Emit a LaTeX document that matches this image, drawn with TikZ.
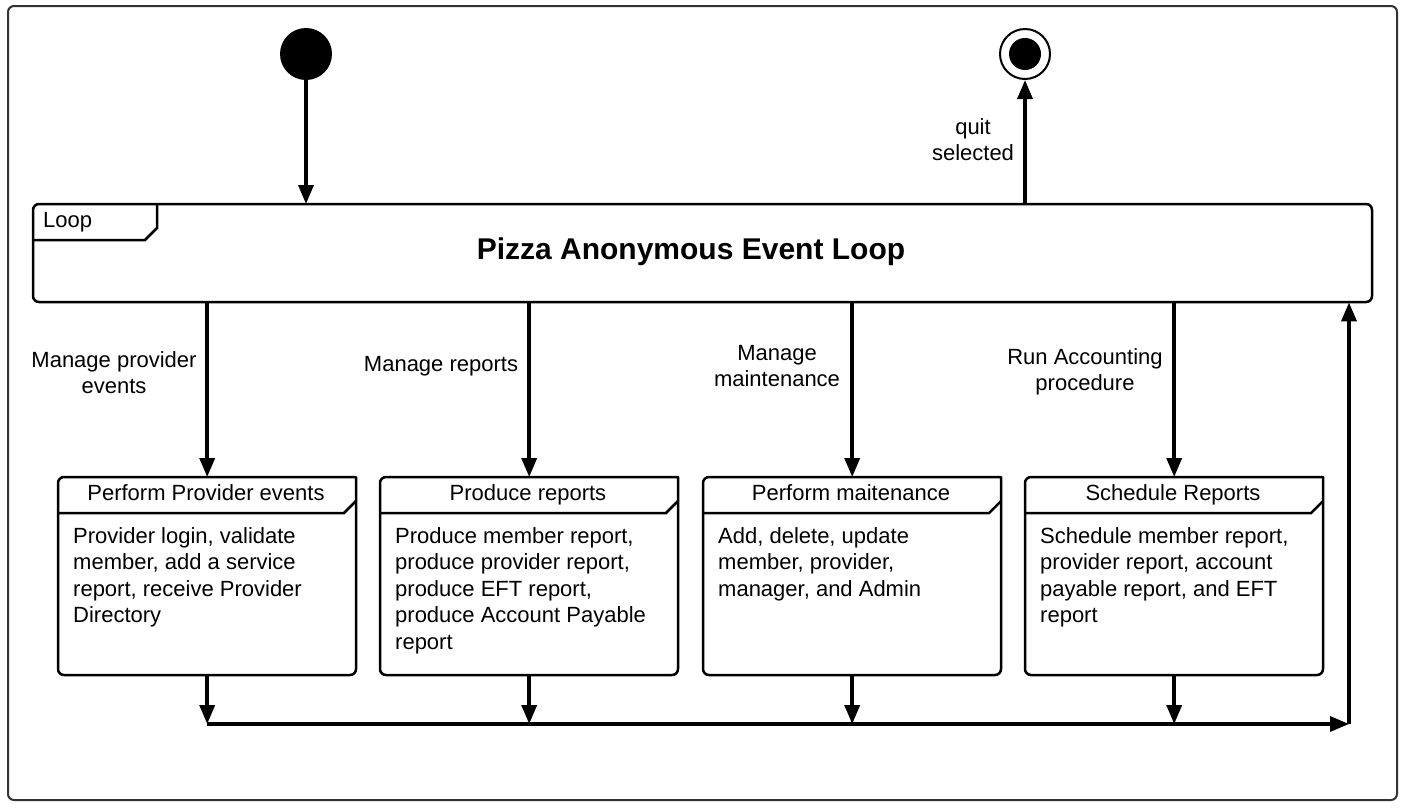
\documentclass[tikz,border=0pt]{standalone}
\usepackage{fontspec}
\setmainfont{Liberation Sans}
\usetikzlibrary{arrows.meta}
\begin{document}
\begin{tikzpicture}[x=1pt,y=-1pt,
  conn/.style={line width=3.5pt,-{Triangle[length=19pt,width=15pt]}},
  frameline/.style={line width=2.5pt, rounded corners=6pt},
  txt/.style={font=\fontsize{22}{26.5}\selectfont, inner sep=0pt},
  lbl/.style={txt, align=center, anchor=north},
  body/.style={txt, align=left, anchor=north west},
  hdr/.style={txt, anchor=base},
  box/.style={minimum width=298pt, minimum height=198pt, inner sep=0pt, anchor=north west},
  initial/.style={circle, fill=black, minimum size=52pt, inner sep=0pt},
  finalring/.style={circle, draw=black, line width=2pt, fill=white, minimum size=50pt, inner sep=0pt},
  finaldot/.style={circle, fill=black, minimum size=32pt, inner sep=0pt}]

\useasboundingbox (0,0) rectangle (1406,809);
\fill[white] (0,0) rectangle (1406,809);
\draw[line width=2pt, black!80, rounded corners=6pt] (8,6) rectangle (1397,800);

% initial and final states
\node[initial] (start) at (306,54) {};
\node[finalring] (endo) at (1025,54) {};
\node[finaldot] (endi) at (1025,54) {};

% loop frame
\node[minimum width=1339pt, minimum height=98pt, anchor=north west, inner sep=0pt] (loop) at (33,204) {};
\draw[frameline] (33,204) rectangle (1372,302);
\draw[line width=2.5pt] (33,240) -- (145,240) -- (157,228) -- (157,204);
\node[hdr, anchor=base west] (looplbl) at (43,227) {Loop};
\node[font=\fontsize{30}{34}\selectfont\bfseries, inner sep=0pt] (title) at (691,252) {Pizza Anonymous Event Loop};

\draw[conn] (start.south) -- (start.south |- loop.north);
\draw[conn] (endo.south |- loop.north) -- (endo.south);
\node[lbl] (quit) at (973,118) {quit\\selected};

% activity boxes
\foreach \i/\x/\h in {1/58/Perform Provider events, 2/380/Produce reports, 3/703/Perform maitenance, 4/1025/Schedule Reports}{
  \node[box] (b\i) at (\x,477) {};
  \draw[line width=2.5pt, rounded corners=6pt, line cap=round] (\x+298,477) -- (\x+298,675) -- (\x,675) -- (\x,477) -- (\x+298,477);
  \draw[line width=2.5pt] (\x,513) -- (\x+286,513) -- (\x+298,501);
  \node[hdr] (h\i) at (\x+148,500) {\h};
}
\node[body] (t1) at (73,527) {Provider login, validate\\member, add a service\\report, receive Provider\\Directory};
\node[body] (t2) at (395,527) {Produce member report,\\produce provider report,\\produce EFT report,\\produce Account Payable\\report};
\node[body] (t3) at (718,527) {Add, delete, update\\member, provider,\\manager, and Admin};
\node[body] (t4) at (1040,527) {Schedule member report,\\provider report, account\\payable report, and EFT\\report};

% transitions from loop to boxes
\foreach \i in {1,2,3,4}{
  \draw[conn] (b\i.north |- loop.south) -- (b\i.north);
}
\node[lbl] (l1) at (114,351) {Manage provider\\events};
\node[hdr] (l2) at (441,371) {Manage reports};
\node[lbl] (l3) at (777,345) {Manage\\maintenance};
\node[lbl] (l4) at (1085,348) {Run Accounting\\procedure};

% return bus
\coordinate (busL) at (207,724);
\coordinate (busR) at (1349,724);
\foreach \i in {1,2,3,4}{
  \draw[conn] (b\i.south) -- (b\i.south |- busL);
}
\draw[conn] (busL) -- (busR);
\draw[conn] (busR) -- (busR |- loop.south);
\end{tikzpicture}
\end{document}
